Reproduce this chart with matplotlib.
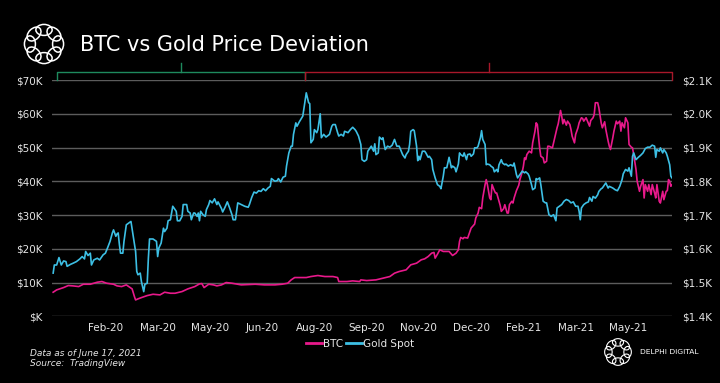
import matplotlib
matplotlib.use("Agg")
import matplotlib.pyplot as plt
import matplotlib.dates as mdates
from matplotlib.lines import Line2D
from matplotlib.patches import Ellipse
import numpy as np
import pandas as pd

START = pd.Timestamp("2020-01-01")

# gold spot (USD/oz), days counted from 2020-01-01
gold_days = [0, 1, 3, 5, 7, 9, 11, 12, 15, 17, 20, 23, 25, 27, 28, 30, 32, 33, 35, 38, 40, 43, 45, 47, 49,
             51, 52, 54, 55, 56, 57, 58, 60, 61, 63, 65, 67, 69, 71, 72, 73, 75, 76, 78, 79, 81, 82, 83, 86,
             89, 90, 91, 93, 95, 96, 98, 99, 101, 103, 105,
             106, 107, 109, 111, 112, 115, 116, 118, 119, 121, 122, 124, 125, 126, 127, 129, 131, 132, 134,
             135, 137, 139, 141, 142, 145, 146, 148, 150, 152, 154, 155, 157, 158, 159, 162, 165, 168, 169,
             171, 173, 175, 177, 179, 181, 183, 185, 187, 188, 191, 193, 194, 196, 198, 200, 201, 203, 205,
             206, 207, 209, 210, 212,
             215, 218, 220, 221, 222, 224, 225, 227, 228, 230, 231, 233, 235, 238, 240, 241, 243, 245, 246,
             248, 250, 251, 254, 256, 258, 260, 261, 263, 265, 266, 268, 270, 271, 273, 274, 276, 277, 278,
             280, 281, 283, 284, 286, 288, 290, 292, 294, 296, 298, 301, 303, 304, 306, 307, 308, 310, 311,
             313, 314, 315, 316, 318, 320,
             321, 323, 324, 326, 327, 329, 330, 331, 333, 334, 336, 337, 339, 341, 343, 344, 346, 347, 349,
             350, 351, 353, 354, 356, 357, 359, 360, 362, 363, 365, 366, 368, 369, 370, 372, 373, 374, 376,
             377, 379, 380, 382, 383, 384, 386, 387, 389, 390, 392, 394, 396, 397, 399, 400, 402, 403, 404,
             406, 407, 409, 410, 412, 413, 415, 416, 417, 419, 420, 422, 424, 425, 427,
             429, 431, 433, 434, 436, 438, 440, 442, 444, 446, 448, 450, 452, 453, 454, 455, 457, 459, 461,
             462, 464, 465, 467, 469, 470, 472, 473, 475, 476, 478, 479, 482, 484, 486, 488, 490, 491, 493,
             495, 496, 498, 499, 500, 502, 504, 506, 508, 510, 512, 514, 516, 518, 519, 520, 522, 523, 525,
             526, 528, 529, 531, 532, 533]
gold_price = [1528, 1552, 1552, 1574, 1552, 1564, 1562, 1548, 1554, 1557, 1562, 1570, 1577, 1570, 1592, 1580,
              1587, 1552, 1567, 1572, 1567, 1582, 1587, 1604, 1622, 1647, 1656, 1637, 1644, 1647, 1614, 1587,
              1587, 1622, 1671, 1676, 1681, 1637, 1592, 1533, 1523, 1528, 1503, 1473, 1495, 1498, 1572, 1629,
              1629, 1622, 1577, 1602, 1617, 1661, 1651, 1661, 1683, 1686, 1726, 1716,
              1711, 1683, 1683, 1696, 1731, 1731, 1711, 1706, 1686, 1706, 1706, 1696, 1706, 1683, 1711, 1701,
              1696, 1716, 1731, 1743, 1736, 1748, 1731, 1739, 1719, 1709, 1723, 1739, 1721, 1701, 1686, 1686,
              1711, 1736, 1731, 1726, 1723, 1731, 1752, 1768, 1765, 1772, 1770, 1778, 1772, 1780, 1785, 1808,
              1800, 1802, 1808, 1798, 1812, 1815, 1845, 1884, 1904, 1904, 1939, 1973, 1963, 1976,
              1993, 2062, 2033, 2030, 1914, 1924, 1953, 1944, 1953, 2000, 1929, 1939, 1931, 1939, 1963, 1968,
              1968, 1944, 1934, 1939, 1934, 1948, 1944, 1953, 1960, 1953, 1948, 1934, 1909, 1864, 1859, 1864,
              1889, 1899, 1904, 1889, 1911, 1879, 1884, 1931, 1924, 1929, 1894, 1904, 1901, 1907, 1924, 1904,
              1904, 1879, 1869, 1879, 1889, 1909, 1948, 1953, 1950, 1904, 1861, 1874, 1864, 1889, 1889,
              1884, 1871, 1874, 1864, 1835, 1810, 1800, 1790, 1785, 1778, 1815, 1840, 1840, 1871, 1840, 1845,
              1840, 1828, 1851, 1884, 1879, 1874, 1884, 1864, 1879, 1881, 1874, 1881, 1899, 1899, 1904, 1929,
              1950, 1924, 1909, 1849, 1851, 1849, 1845, 1840, 1828, 1835, 1828, 1849, 1864, 1854, 1849, 1851,
              1845, 1849, 1845, 1854, 1820, 1810, 1820, 1825, 1830, 1825, 1828, 1822, 1815, 1790, 1775, 1780,
              1808, 1805, 1810, 1790, 1741, 1736, 1736, 1701,
              1696, 1701, 1683, 1721, 1726, 1731, 1741, 1746, 1743, 1736, 1739, 1726, 1726, 1711, 1686, 1721,
              1731, 1736, 1739, 1752, 1741, 1755, 1750, 1760, 1770, 1778, 1780, 1790, 1795, 1780, 1785, 1780,
              1775, 1772, 1785, 1805, 1822, 1835, 1830, 1840, 1815, 1874, 1884, 1864, 1871, 1877, 1884, 1897,
              1901, 1901, 1907, 1904, 1871, 1894, 1889, 1899, 1884, 1894, 1884, 1874, 1849, 1815, 1810]

# bitcoin (USD), days counted from 2020-01-01
btc_days = [0, 3, 9, 13, 17, 22, 26, 32, 38, 42, 46, 52, 55, 59, 63, 68, 70, 71, 73, 76, 81, 86, 92, 96, 101,
            105, 111, 116, 122, 126, 128, 130, 134, 138, 141, 145, 149, 154, 162, 174, 182, 191, 197, 202, 205,
            208, 212, 218, 222, 228, 234, 241, 245, 246, 253, 258, 264, 265, 270, 278, 284, 290, 294, 298,
            304, 308, 313, 317, 320,
            323, 326, 328, 329, 331, 333, 336, 339, 341, 344, 347, 349, 350, 351, 353, 354, 357, 359, 360,
            363, 364, 366, 367, 369, 370, 372, 373, 374, 376, 377, 378, 380, 381, 382, 384, 385, 386, 388,
            389, 391, 392, 393, 395, 396, 397, 399, 401, 402, 404, 405, 406, 407, 408, 410, 412, 413, 415,
            416, 417, 419, 420, 422, 423, 425, 426, 427,
            430, 432, 434, 435, 437, 438, 439, 440, 442, 443, 445, 446, 447, 449, 450, 452, 453, 455, 456,
            457, 459, 460, 462, 463, 465, 466, 467, 469, 470, 472, 473, 475, 476, 478, 479, 480, 482, 483,
            485, 486, 488, 489, 490, 492, 493, 495, 496, 498, 499, 500, 502, 503, 505, 506, 508, 509, 510,
            512, 513, 515, 516, 518, 519, 520, 522, 523, 525, 526, 528, 529, 530, 531, 532, 533]
btc_price = [7130, 7820, 8510, 9110, 9010, 8810, 9500, 9500, 10100, 10300, 9800, 9500, 9010, 8810, 9310, 8120,
             5840, 4850, 5150, 5540, 6140, 6530, 6340, 7130, 6830, 6830,
             7330, 8120, 8810, 9600, 9700, 8510, 9500, 9310, 9010, 9310, 10000, 9800, 9310, 9500, 9310, 9310,
             9500, 9800, 10790, 11480, 11480,
             11480, 11780, 12080, 11780, 11780, 11480, 10300, 10300, 10490, 10300, 10790, 10590, 10790, 11290,
             11780, 12770, 13270, 13760, 15250, 15740, 16730, 17030,
             17720, 18710, 18910, 17230, 18410, 19700, 19210, 19210, 19210, 18020, 18710, 19700, 22180, 23360,
             22970, 23360, 23170, 25150, 26140, 27320, 29110, 30590, 32270, 31880, 35050, 39010, 40490, 39010,
             35050, 34550, 39010, 37220, 36530, 36530, 34060, 32870, 31090, 31880, 33070, 30590, 30590, 33070,
             34060, 33560, 35050, 37220, 38810, 40490, 42770, 44450, 46930, 46430, 47920, 48910, 48410, 51380,
             54850, 57320, 56830, 49900, 47420, 46930, 45440, 45940, 50390, 50390,
             49900, 52870, 55840, 57020, 60980, 59300, 57020, 58310, 56630, 57820, 56830, 55340, 53360, 51380,
             53860, 55840, 57320, 58810, 58610, 57820, 58810, 58010, 56330, 58010, 58810, 59800, 63260, 63260,
             61780, 57320, 55840, 57620, 55340, 51880, 50390, 49400, 52870, 54850, 57820, 57020, 57820, 54850,
             57320, 55840, 58810, 57320, 50890, 50090, 49900, 47920, 43460, 40000, 37030, 38510, 40490, 35050,
             39010, 37030, 39010, 36040, 39010, 36530, 35050, 39010, 34060, 33560, 37030, 34550, 37030, 37220,
             40490, 40000, 38510, 39010]

btc_ticks = [0, 10000, 20000, 30000, 40000, 50000, 60000, 70000]
btc_tick_labels = ["$K", "$10K", "$20K", "$30K", "$40K", "$50K", "$60K", "$70K"]
gold_ticks = [1400, 1500, 1600, 1700, 1800, 1900, 2000, 2100]
gold_tick_labels = ["$1.4K", "$1.5K", "$1.6K", "$1.7K", "$1.8K", "$1.9K", "$2.0K", "$2.1K"]

# periods marked by brackets above the plot (gold rally, then gold drawdown)
green_period = (3, 217)
red_period = (217, 533)

PINK = "#e8198b"
CYAN = "#3dbfe4"
TXT = "#e6e6e6"
GRID = "#5c5c5c"


def to_dates(days):
    return START + pd.to_timedelta(days, unit="D")


def draw_logo(fig, rect, lw):
    # ring of eight interlaced loops
    lax = fig.add_axes(rect)
    lax.set_xlim(-1, 1)
    lax.set_ylim(-1, 1)
    lax.set_aspect("equal")
    lax.axis("off")
    for a in np.linspace(0, 2 * np.pi, 8, endpoint=False):
        lax.add_patch(Ellipse((0.64 * np.cos(a), 0.64 * np.sin(a)), 0.74, 0.5,
                              angle=np.degrees(a) + 90, fill=False, ec="white", lw=lw))


fig = plt.figure(figsize=(7.2, 3.83), dpi=100, facecolor="black")
ax = fig.add_axes([52 / 720, 1 - 316.3 / 383, 620 / 720, 236.3 / 383])
ax.set_facecolor("black")
ax2 = ax.twinx()

ax.plot(to_dates(btc_days), btc_price, color=PINK, lw=1.2, zorder=3)
ax2.plot(to_dates(gold_days), gold_price, color=CYAN, lw=1.2, zorder=3)

ax.set_ylim(0, 70000)
ax2.set_ylim(1400, 2100)
ax.set_xlim(to_dates([-1])[0], to_dates([533])[0])

ax.set_yticks(btc_ticks)
ax.set_yticklabels(btc_tick_labels)
ax2.set_yticks(gold_ticks)
ax2.set_yticklabels(gold_tick_labels)

xt = to_dates(list(range(45, 500, 45)))
ax.set_xticks(xt)
ax.xaxis.set_major_formatter(mdates.DateFormatter("%b-%y"))

ax.yaxis.grid(True, color=GRID, lw=1)
ax.set_axisbelow(True)
for a in (ax, ax2):
    for s in a.spines.values():
        s.set_visible(False)
    a.tick_params(length=0, colors=TXT, labelsize=7.5)
ax.tick_params(axis="y", pad=7)
ax2.tick_params(axis="y", pad=7)
ax.tick_params(axis="x", pad=5)

# brackets
for (d0, d1), col in ((green_period, "#1e8a5e"), (red_period, "#a8182a")):
    x0, x1 = to_dates([d0])[0], to_dates([d1])[0]
    xm = to_dates([(d0 + d1) / 2])[0]
    tr = ax.get_xaxis_transform()
    ax.plot([x0, x0, x1, x1], [1.0, 1.034, 1.034, 1.0], color=col, lw=1, transform=tr, clip_on=False)
    ax.plot([xm, xm], [1.034, 1.072], color=col, lw=1, transform=tr, clip_on=False)

# title and logos
fig.text(80 / 720, 1 - 45 / 383, "BTC vs Gold Price Deviation", color="white", fontsize=15,
         ha="left", va="center")
draw_logo(fig, [22 / 720, 1 - 66 / 383, 44 / 720, 44 / 383], 1.1)
draw_logo(fig, [603 / 720, 1 - 367 / 383, 30 / 720, 30 / 383], 0.8)
fig.text(640 / 720, 1 - 352 / 383, "DELPHI DIGITAL", color="white", fontsize=5.4,
         ha="left", va="center")

# legend
handles = [Line2D([], [], color=PINK, lw=2), Line2D([], [], color=CYAN, lw=2)]
fig.legend(handles, ["BTC", "Gold Spot"], loc="center", bbox_to_anchor=(0.5, 1 - 344 / 383), ncol=2,
           frameon=False, fontsize=7.5, labelcolor=TXT, handlelength=1.6, handletextpad=0.1,
           columnspacing=0.2)

# footer
fig.text(30 / 720, 1 - 353 / 383, "Data as of June 17, 2021", color=TXT, fontsize=6.5, style="italic",
         ha="left", va="center")
fig.text(30 / 720, 1 - 363 / 383, "Source:  TradingView", color=TXT, fontsize=6.5, style="italic",
         ha="left", va="center")

fig.savefig("out.png", dpi=100, facecolor="black")
